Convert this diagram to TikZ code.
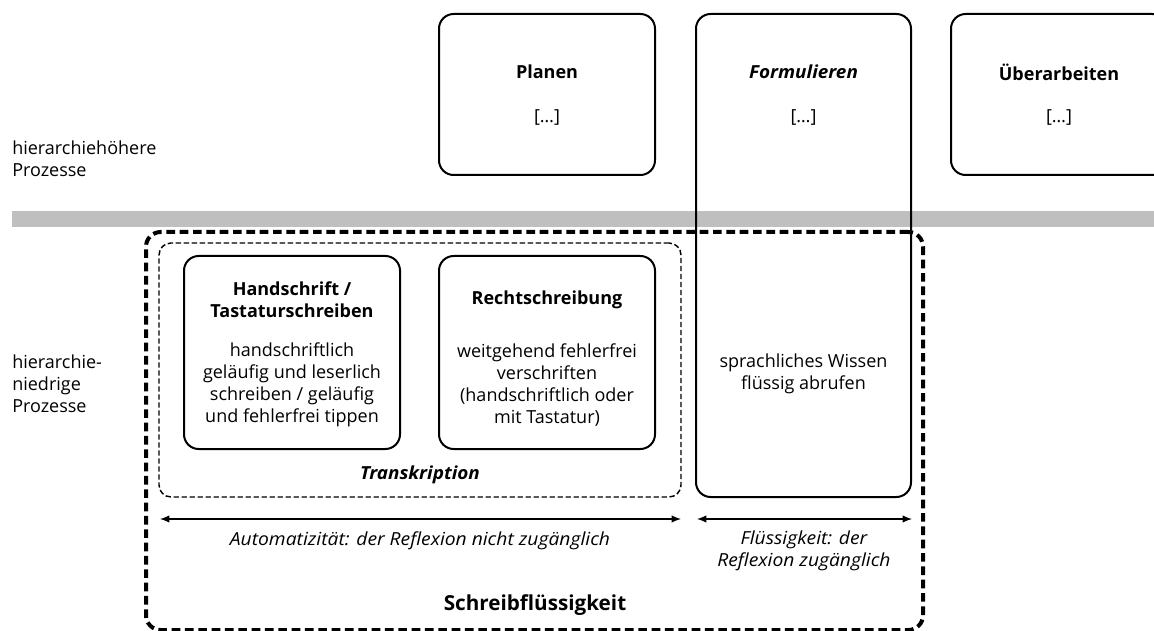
\documentclass[tikz,border=0pt]{standalone}
\usepackage{fontspec}
\setmainfont{Open Sans}[ItalicFeatures={FakeStretch=1.07}, BoldItalicFeatures={FakeStretch=1.05}]
\usetikzlibrary{arrows.meta}
\newcommand{\bodyfont}{\fontsize{13.5}{16.5}\selectfont}
\begin{document}
\begin{tikzpicture}[x=0.75pt,y=-0.75pt,
  txt/.style={font=\bodyfont, inner sep=0pt, align=center},
  proc/.style={draw, line width=1.5pt, rounded corners=11pt, inner sep=0pt},
  outerdash/.style={draw, line width=3pt, rounded corners=11pt, inner sep=0pt, dash pattern=on 6.5pt off 3.5pt},
  innerdash/.style={draw, line width=1.1pt, rounded corners=9pt, inner sep=0pt, dash pattern=on 4pt off 2pt},
  dimarrow/.style={{Latex[length=7pt,width=5.5pt]}-{Latex[length=7pt,width=5.5pt]}, line width=0.9pt}
]
\useasboundingbox (0,0) rectangle (1154,631);
\clip (0,0) rectangle (1154,631);

% gray separator bar
\node[fill=black!25, minimum width=856.5pt, minimum height=12pt, inner sep=0pt, anchor=north west] (bar) at (12,211) {};

% higher-level processes
\node[proc, minimum width=162pt, minimum height=120.75pt] (plan) at (547,94.5) {};
\node[proc, minimum width=161.25pt, minimum height=362.25pt] (form) at (803.5,255.5) {};
\node[proc, minimum width=162pt, minimum height=120.75pt] (ueber) at (1059,94.5) {};

\node[txt, font=\bodyfont\bfseries] (planT) at (547,72) {Planen};
\node[txt] (planD) at (547,118) {[…]};
\node[txt, font=\bodyfont\bfseries\itshape] (formT) at (803.5,72) {Formulieren};
\node[txt] (formD) at (803.5,118) {[…]};
\node[txt, font=\bodyfont\bfseries] (ueberT) at (1059,72) {Überarbeiten};
\node[txt] (ueberD) at (1059,118) {[…]};

% left labels
\node[txt, align=left, anchor=west] (hoch) at (12,159) {hierarchiehöhere\\Prozesse};
\node[txt, align=left, anchor=west] (nied) at (12,384) {hierarchie-\\niedrige\\Prozesse};

% outer and inner dashed frames
\node[outerdash, minimum width=582.75pt, minimum height=298.5pt] (fluency) at (534.5,431) {};
\node[innerdash, minimum width=391.5pt, minimum height=190.5pt] (trans) at (420,370) {};

% lower-level processes
\node[proc, minimum width=162pt, minimum height=144.75pt] (hand) at (292,352.5) {};
\node[proc, minimum width=162pt, minimum height=144.75pt] (recht) at (547,352.5) {};

\node[txt, font=\bodyfont\bfseries] (handT) at (292,300) {Handschrift /\\Tastaturschreiben};
\node[txt] (handD) at (292,385) {handschriftlich\\geläufig und leserlich\\schreiben / geläufig\\und fehlerfrei tippen};
\node[txt, font=\bodyfont\bfseries] (rechtT) at (547,300) {Rechtschreibung};
\node[txt] (rechtD) at (547,385) {weitgehend fehlerfrei\\verschriften\\(handschriftlich oder\\mit Tastatur)};
\node[txt] (formL) at (803.5,374) {sprachliches Wissen\\flüssig abrufen};

\node[txt, font=\bodyfont\bfseries\itshape] (transT) at (420,475) {Transkription};

% dimension arrows
\coordinate (a1l) at (160,519);
\coordinate (a1r) at (681,519);
\coordinate (a2l) at (697,519);
\coordinate (a2r) at (912,519);
\draw[dimarrow] (a1l) -- (a1r);
\draw[dimarrow] (a2l) -- (a2r);

\node[txt, font=\bodyfont\itshape] (autoL) at (420,541) {Automatizität: der Reflexion nicht zugänglich};
\node[txt, font=\bodyfont\itshape] (flueL) at (804,551) {Flüssigkeit: der\\Reflexion zugänglich};

\node[txt, font=\fontsize{15.5}{18}\selectfont\bfseries] (schreib) at (535,605) {Schreibflüssigkeit};
\end{tikzpicture}
\end{document}
